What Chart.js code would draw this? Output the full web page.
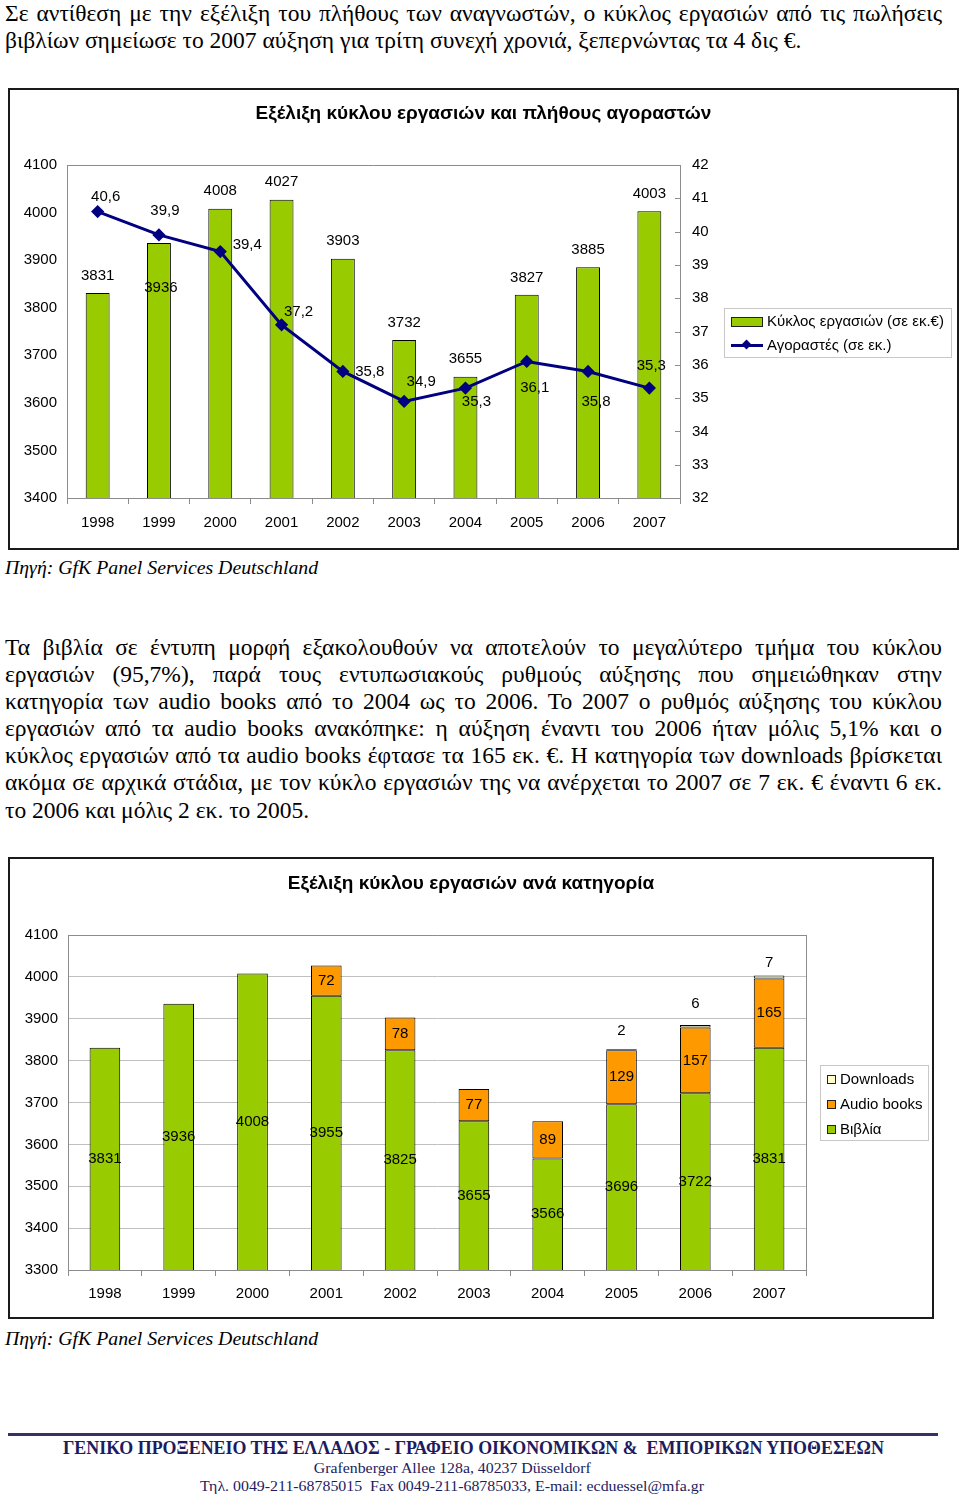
<!DOCTYPE html>
<html><head><meta charset="utf-8">
<script src="https://cdn.jsdelivr.net/npm/chart.js@4.4.1/dist/chart.umd.min.js"></script>
<style>
html,body{margin:0;padding:0;background:#fff;}
body{width:960px;height:1503px;position:relative;overflow:hidden;font-family:"Liberation Serif","Times New Roman",serif;color:#000;}
.p{position:absolute;left:5px;width:937px;font-size:23.5px;line-height:27.1px;}
.p div{text-align:justify;text-align-last:justify;white-space:nowrap;}
.p div.last{text-align-last:left;}
.src{position:absolute;left:5px;font-style:italic;font-size:19.8px;line-height:27px;white-space:nowrap;}
.frame{position:absolute;border:2px solid #1a1a1a;box-sizing:border-box;pointer-events:none;}
.cwrap{position:absolute;}
.ctitle{position:absolute;font-family:"Liberation Sans",Arial,sans-serif;font-weight:bold;font-size:19px;line-height:22px;text-align:center;white-space:nowrap;}
.legend{position:absolute;border:1px solid #c8c8c8;background:#fff;font-family:"Liberation Sans",Arial,sans-serif;font-size:15px;box-sizing:border-box;}
.li{position:absolute;white-space:nowrap;line-height:18px;}
.sw{position:absolute;box-sizing:border-box;border:1px solid #222;}
.footer{position:absolute;left:0;width:900px;text-align:center;color:#1c1c5e;white-space:nowrap;}
</style>
</head>
<body>

<div class="p" style="top:0px;">
<div>Σε αντίθεση με την εξέλιξη του πλήθους των αναγνωστών, ο κύκλος εργασιών από τις πωλήσεις</div>
<div class="last">βιβλίων σημείωσε το 2007 αύξηση για τρίτη συνεχή χρονιά, ξεπερνώντας τα 4 δις €.</div>
</div>

<div class="cwrap" style="left:8px;top:88px;width:950px;height:461px;"><canvas id="c1" width="950" height="461"></canvas></div>
<div class="frame" style="left:8px;top:88px;width:951px;height:462px;"></div>
<div class="ctitle" style="left:8px;top:102px;width:951px;">Εξέλιξη κύκλου εργασιών και πλήθους αγοραστών</div>
<div class="legend" style="left:724px;top:308px;width:228px;height:50px;">
  <div class="sw" style="left:6px;top:8px;width:32px;height:10px;background:#99CC00;"></div>
  <div class="li" style="left:42px;top:3px;">Κύκλος εργασιών (σε εκ.€)</div>
  <div style="position:absolute;left:6px;top:35px;width:32px;height:3px;background:#000080;"></div>
  <div style="position:absolute;left:18px;top:32px;width:7px;height:7px;background:#000080;transform:rotate(45deg);"></div>
  <div class="li" style="left:42px;top:27px;">Αγοραστές (σε εκ.)</div>
</div>

<div class="src" style="top:554px;">Πηγή: GfK Panel Services Deutschland</div>

<div class="p" style="top:634px;">
<div>Τα βιβλία σε έντυπη μορφή εξακολουθούν να αποτελούν το μεγαλύτερο τμήμα του κύκλου</div>
<div>εργασιών (95,7%), παρά τους εντυπωσιακούς ρυθμούς αύξησης που σημειώθηκαν στην</div>
<div>κατηγορία των audio books από το 2004 ως το 2006. Το 2007 ο ρυθμός αύξησης του κύκλου</div>
<div>εργασιών από τα audio books ανακόπηκε: η αύξηση έναντι του 2006 ήταν μόλις 5,1% και ο</div>
<div>κύκλος εργασιών από τα audio books έφτασε τα 165 εκ. €. Η κατηγορία των downloads βρίσκεται</div>
<div>ακόμα σε αρχικά στάδια, με τον κύκλο εργασιών της να ανέρχεται το 2007 σε 7 εκ. € έναντι 6 εκ.</div>
<div class="last">το 2006 και μόλις 2 εκ. το 2005.</div>
</div>

<div class="cwrap" style="left:8px;top:857px;width:926px;height:462px;"><canvas id="c2" width="926" height="462"></canvas></div>
<div class="frame" style="left:8px;top:857px;width:926px;height:462px;"></div>
<div class="ctitle" style="left:8px;top:872px;width:926px;">Εξέλιξη κύκλου εργασιών ανά κατηγορία</div>
<div class="legend" style="left:820px;top:1065px;width:109px;height:76px;">
  <div class="sw" style="left:6px;top:9px;width:9px;height:9px;background:#FFFFCC;"></div>
  <div class="li" style="left:19px;top:4px;">Downloads</div>
  <div class="sw" style="left:6px;top:34px;width:9px;height:9px;background:#FF9900;"></div>
  <div class="li" style="left:19px;top:29px;">Audio books</div>
  <div class="sw" style="left:6px;top:59px;width:9px;height:9px;background:#99CC00;"></div>
  <div class="li" style="left:19px;top:54px;">Βιβλία</div>
</div>

<div class="src" style="top:1325px;">Πηγή: GfK Panel Services Deutschland</div>

<div style="position:absolute;left:8px;top:1433px;width:930px;height:3px;background:#333366;"></div>
<div class="footer" style="top:1438px;left:0;width:946px;font-weight:bold;font-size:18px;line-height:20px;"><span id="f1" style="display:inline-block;transform-origin:center;">ΓΕΝΙΚΟ ΠΡΟΞΕΝΕΙΟ ΤΗΣ ΕΛΛΑΔΟΣ - ΓΡΑΦΕΙΟ ΟΙΚΟΝΟΜΙΚΩΝ &amp;&nbsp; ΕΜΠΟΡΙΚΩΝ ΥΠΟΘΕΣΕΩΝ</span></div>
<div class="footer" style="top:1459px;left:0;width:904px;font-size:15px;line-height:18px;"><span id="f2" style="display:inline-block;transform-origin:center;">Grafenberger Allee 128a, 40237 Düsseldorf</span></div>
<div class="footer" style="top:1477px;left:0;width:904px;font-size:15px;line-height:18px;"><span id="f3" style="display:inline-block;transform-origin:center;">Τηλ. 0049-211-68785015&nbsp; Fax 0049-211-68785033, E-mail: ecduessel@mfa.gr</span></div>

<script>
// ---- data ----
const years = ['1998','1999','2000','2001','2002','2003','2004','2005','2006','2007'];
const turnover = [3831, 3936, 4008, 4027, 3903, 3732, 3655, 3827, 3885, 4003];
const buyers = [40.6, 39.9, 39.4, 37.2, 35.8, 34.9, 35.3, 36.1, 35.8, 35.3];
const books = [3831, 3936, 4008, 3955, 3825, 3655, 3566, 3696, 3722, 3831];
const audiobooks = [null, null, null, 72, 78, 77, 89, 129, 157, 165];
const downloads = [null, null, null, null, null, null, null, 2, 6, 7];
const leftAxis1 = {min: 3400, max: 4100, step: 100};
const rightAxis1 = {min: 32, max: 42, step: 1};
const axis2 = {min: 3300, max: 4100, step: 100};

// ---- label placement (styling, not data) ----
const barLabelDy1 = [-17.5, 44.5, -17.5, -17.5, -17.5, -17.5, -17.5, -17.5, -17.5, -17.5];
const barLabelDx1 = [0, 2, 0, 0, 0, 0, 0, 0, 0, 0];
const lineLabelOff1 = [[8,-15],[6,-24],[27,-7],[17,-13],[27,0],[17,-20],[11,14],[8,26],[8,30],[2,-22]];
const dlLabelDy2 = [0,0,0,0,0,0,0,-18,-21,-13];

const FONT = '"Liberation Sans", Arial, sans-serif';
Chart.defaults.font.family = FONT;
Chart.defaults.font.size = 15;
Chart.defaults.color = '#000';
Chart.defaults.animation = false;

const fmtDec = v => v.toFixed(1).replace('.', ',');
const plain = v => String(v);

function frameTicksPlugin(innerRightTicks){
  return {
    id: 'frameTicks',
    beforeDatasetsDraw(chart){
      const {ctx, chartArea: a} = chart;
      ctx.save();
      ctx.strokeStyle = '#8c8c8c';
      ctx.lineWidth = 1;
      ctx.beginPath();
      ctx.moveTo(a.left, a.top + 0.5); ctx.lineTo(a.right + 0.5, a.top + 0.5);
      ctx.moveTo(a.right + 0.5, a.top); ctx.lineTo(a.right + 0.5, a.bottom);
      if (innerRightTicks) {
        const s = chart.scales.y2;
        s.ticks.forEach((t, i) => {
          const y = Math.round(s.getPixelForTick(i)) + 0.5;
          ctx.moveTo(a.right - 5, y); ctx.lineTo(a.right, y);
        });
      }
      ctx.stroke();
      ctx.restore();
    }
  };
}

// ---- chart 1 ----
const labels1 = {
  id: 'labels1',
  afterDatasetsDraw(chart){
    const ctx = chart.ctx;
    ctx.save();
    ctx.font = '15px ' + FONT;
    ctx.fillStyle = '#000';
    ctx.textAlign = 'center';
    ctx.textBaseline = 'middle';
    const mb = chart.getDatasetMeta(1);
    mb.data.forEach((el, i) => {
      ctx.fillText(String(turnover[i]), el.x + barLabelDx1[i], el.y + barLabelDy1[i]);
    });
    const ml = chart.getDatasetMeta(0);
    ml.data.forEach((el, i) => {
      ctx.fillText(fmtDec(buyers[i]), el.x + lineLabelOff1[i][0], el.y + lineLabelOff1[i][1]);
    });
    ctx.restore();
  }
};

new Chart(document.getElementById('c1'), {
  data: {
    labels: years,
    datasets: [
      {type: 'line', label: 'Αγοραστές (σε εκ.)', data: buyers, yAxisID: 'y2', order: 0,
       borderColor: '#000080', backgroundColor: '#000080', borderWidth: 3, tension: 0,
       pointStyle: 'rectRot', pointRadius: 4.5, pointBackgroundColor: '#000080', pointBorderColor: '#000080'},
      {type: 'bar', label: 'Κύκλος εργασιών (σε εκ.€)', data: turnover, yAxisID: 'y', order: 1,
       backgroundColor: '#99CC00', borderColor: '#000', borderWidth: 1, borderSkipped: 'start',
       barPercentage: 0.39, categoryPercentage: 1.0}
    ]
  },
  options: {
    responsive: false,
    layout: {padding: {left: 0, top: 77, right: 238, bottom: 11}},
    plugins: {legend: {display: false}, tooltip: {enabled: false}, title: {display: false}},
    scales: {
      x: {
        grid: {display: true, drawOnChartArea: false, drawTicks: true, tickLength: 6, color: '#8c8c8c', offset: true},
        border: {display: true, color: '#8c8c8c'},
        ticks: {padding: 10, font: {size: 15}, maxRotation: 0},
        afterFit(s){ s.height = 40; }
      },
      y: {
        position: 'left', min: leftAxis1.min, max: leftAxis1.max,
        grid: {display: false, drawTicks: false},
        border: {display: true, color: '#8c8c8c'},
        ticks: {stepSize: leftAxis1.step, padding: 10, font: {size: 15}, callback: plain},
        afterFit(s){ s.width = 59; }
      },
      y2: {
        position: 'right', min: rightAxis1.min, max: rightAxis1.max,
        grid: {display: false, drawTicks: false},
        border: {display: false},
        ticks: {stepSize: rightAxis1.step, padding: 12, font: {size: 15}, callback: plain},
        afterFit(s){ s.width = 40; }
      }
    }
  },
  plugins: [frameTicksPlugin(true), labels1]
});

// ---- chart 2 ----
const labels2 = {
  id: 'labels2',
  afterDatasetsDraw(chart){
    const ctx = chart.ctx;
    const a = chart.chartArea;
    ctx.save();
    ctx.font = '15px ' + FONT;
    ctx.fillStyle = '#000';
    ctx.textAlign = 'center';
    ctx.textBaseline = 'middle';
    const mB = chart.getDatasetMeta(0);
    mB.data.forEach((el, i) => {
      const bottom = Math.min(el.base, a.bottom);
      ctx.fillText(String(books[i]), el.x, (el.y + bottom) / 2);
    });
    const mA = chart.getDatasetMeta(1);
    mA.data.forEach((el, i) => {
      if (audiobooks[i] == null) return;
      ctx.fillText(String(audiobooks[i]), el.x, (el.y + el.base) / 2);
    });
    const mD = chart.getDatasetMeta(2);
    mD.data.forEach((el, i) => {
      if (downloads[i] == null) return;
      ctx.fillText(String(downloads[i]), el.x, el.y + dlLabelDy2[i]);
    });
    ctx.restore();
  }
};

const barCommon = {borderColor: '#000', borderWidth: 1, borderSkipped: false, barPercentage: 0.415, categoryPercentage: 1.0};
new Chart(document.getElementById('c2'), {
  type: 'bar',
  data: {
    labels: years,
    datasets: [
      Object.assign({label: 'Βιβλία', data: books, backgroundColor: '#99CC00'}, barCommon),
      Object.assign({label: 'Audio books', data: audiobooks, backgroundColor: '#FF9900'}, barCommon),
      Object.assign({label: 'Downloads', data: downloads, backgroundColor: '#FFFFCC'}, barCommon)
    ]
  },
  options: {
    responsive: false,
    layout: {padding: {left: 0, top: 78, right: 128, bottom: 9}},
    plugins: {legend: {display: false}, tooltip: {enabled: false}, title: {display: false}},
    scales: {
      x: {
        stacked: true,
        grid: {display: true, drawOnChartArea: false, drawTicks: true, tickLength: 6, color: '#8c8c8c', offset: true},
        border: {display: true, color: '#8c8c8c'},
        ticks: {padding: 9, font: {size: 15}, maxRotation: 0},
        afterFit(s){ s.height = 40; }
      },
      y: {
        stacked: true, min: axis2.min, max: axis2.max,
        grid: {display: true, drawTicks: false, color: '#c0c0c0'},
        border: {display: true, color: '#8c8c8c'},
        ticks: {stepSize: axis2.step, padding: 10, font: {size: 15}, callback: plain},
        afterFit(s){ s.width = 60; }
      }
    }
  },
  plugins: [frameTicksPlugin(false), labels2]
});

// fit footer lines to measured reference widths
function fit(id, w){
  const el = document.getElementById(id);
  const cw = el.getBoundingClientRect().width;
  if (cw > 0) el.style.transform = 'scaleX(' + (w / cw) + ')';
}
fit('f1', 821); fit('f2', 277); fit('f3', 504);
</script>
</body></html>
